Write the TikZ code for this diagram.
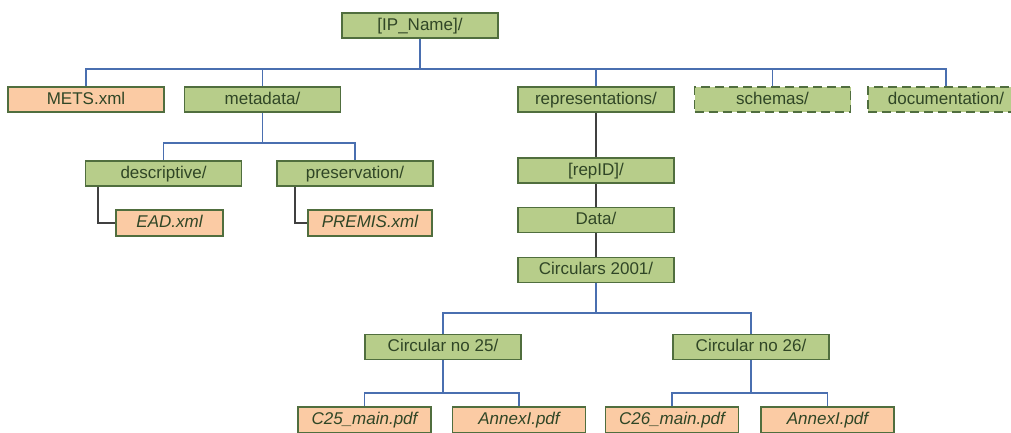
\documentclass[tikz,border=0pt]{standalone}
\usepackage{fontspec}
\setmainfont{Liberation Sans}
\definecolor{dirgreen}{RGB}{183,205,138}
\definecolor{filepeach}{RGB}{251,203,164}
\definecolor{boxline}{RGB}{80,110,62}
\definecolor{txt}{RGB}{48,70,38}
\definecolor{linkblue}{RGB}{74,111,176}
\definecolor{chaingrey}{RGB}{64,64,64}
\tikzset{
  folder/.style={draw=boxline , fill=dirgreen , line width=1.6pt , minimum width=156pt , minimum height=25pt , inner sep=0pt , text height=12.5pt , text depth=3.5pt , text=txt , font=\fontsize{17}{17}\selectfont},
  optfolder/.style={folder , dash pattern=on 9pt off 5pt},
  plainfile/.style={folder , fill=filepeach},
  itfile/.style={plainfile , minimum height=26pt , font=\fontsize{17}{17}\selectfont\itshape},
  link/.style={draw=linkblue , line width=1.6pt},
  chain/.style={draw=chaingrey , line width=1.6pt}
}
\begin{document}
\begin{tikzpicture}[x=1pt , y=-1pt]

\clip (0,0) rectangle (1011,432) ;

\node[folder] (ip) at (420,25.5) {[IP\_Name]/} ;

\node[plainfile] (mets) at (86,99.5) {METS.xml} ;
\node[folder] (meta) at (262.5,99.5) {metadata/} ;
\node[folder] (reps) at (596,99.5) {representations/} ;
\node[optfolder] (schemas) at (772.5,99.5) {schemas/} ;
\node[optfolder] (docs) at (946,99.5) {documentation/} ;

\node[folder] (desc) at (163.5,173.5) {descriptive/} ;
\node[folder] (pres) at (355,173.5) {preservation/} ;
\node[itfile , minimum width=107pt] (ead) at (169.5,223) {EAD.xml} ;
\node[itfile , minimum width=124pt] (premis) at (370,223) {PREMIS.xml} ;

\node[folder] (repid) at (596,170.5) {[repID]/} ;
\node[folder] (data) at (596,220) {Data/} ;
\node[folder] (circs) at (596,270) {Circulars 2001/} ;

\node[folder] (c25) at (443,347) {Circular no 25/} ;
\node[folder] (c26) at (751,347) {Circular no 26/} ;

\node[itfile , minimum width=133pt] (c25main) at (364.5,420) {C25\_main.pdf} ;
\node[itfile , minimum width=133pt] (annexa) at (519,420) {AnnexI.pdf} ;
\node[itfile , minimum width=133pt] (c26main) at (672,420) {C26\_main.pdf} ;
\node[itfile , minimum width=133pt] (annexb) at (827.5,420) {AnnexI.pdf} ;

\coordinate (topbus) at (0,69) ;
\coordinate (metabus) at (0,143) ;
\coordinate (circbus) at (0,313) ;
\coordinate (leafbus) at (0,393) ;

\draw[link] (ip.south) -- (ip.south |- topbus) -| (mets.north) ;
\draw[link] (ip.south |- topbus) -| (meta.north) ;
\draw[link] (ip.south |- topbus) -| (reps.north) ;
\draw[link] (ip.south |- topbus) -| (schemas.north) ;
\draw[link] (ip.south |- topbus) -| (docs.north) ;

\draw[link] (meta.south) -- (meta.south |- metabus) -| (desc.north) ;
\draw[link] (meta.south |- metabus) -| (pres.north) ;
\draw[chain] ([xshift=13pt]desc.south west) |- (ead.west) ;
\draw[chain] ([xshift=19pt]pres.south west) |- (premis.west) ;

\draw[chain] (reps.south) -- (repid.north) ;
\draw[chain] (repid.south) -- (data.north) ;
\draw[chain] (data.south) -- (circs.north) ;

\draw[link] (circs.south) -- (circs.south |- circbus) -| (c25.north) ;
\draw[link] (circs.south |- circbus) -| (c26.north) ;
\draw[link] (c25.south) -- (c25.south |- leafbus) -| (c25main.north) ;
\draw[link] (c25.south |- leafbus) -| (annexa.north) ;
\draw[link] (c26.south) -- (c26.south |- leafbus) -| (c26main.north) ;
\draw[link] (c26.south |- leafbus) -| (annexb.north) ;

\end{tikzpicture}
\end{document}
